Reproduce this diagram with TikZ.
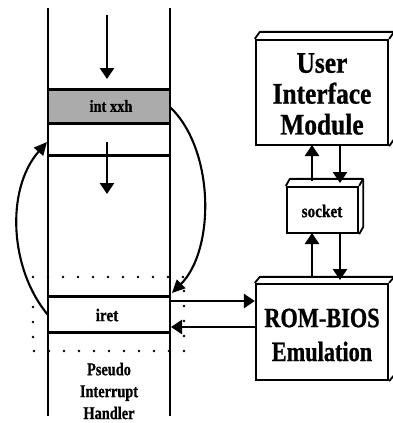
\documentclass[tikz,border=0pt]{standalone}
\usepackage{fontspec}
\setmainfont{Liberation Serif}
\newfontfamily\figfont[FakeStretch=0.85,FakeBold=0.8]{Liberation Serif}
\newfontfamily\narrowfont[FakeStretch=0.8,FakeBold=0.8]{Liberation Serif}
\usetikzlibrary{arrows.meta,calc}
\begin{document}
\begin{tikzpicture}[x=1bp,y=-1bp,
  rail/.style={line width=1.9bp},
  band/.style={line width=3bp},
  flow/.style={line width=2.6bp,-{Triangle[length=11bp,width=14bp]}},
  loop/.style={line width=2.1bp,-{Triangle[length=13bp,width=12bp]}},
  boxface/.style={draw,line width=2.3bp,fill=white,inner sep=0pt},
  slab/.style={line width=1.8bp,line join=round},
  dotline/.style={line width=2.6bp,line cap=round,dash pattern=on 0bp off 15bp},
]
\useasboundingbox (0,0) rectangle (393,423);

% stack column
\coordinate (ctl) at (48,8);  \coordinate (cbl) at (48,416);
\coordinate (ctr) at (170,8); \coordinate (cbr) at (170,416);

% shaded instruction band
\node[fill=black!33,minimum width=122bp,minimum height=33bp,inner sep=0pt]
  (intband) at (109,106.5) {};
\node[font=\figfont\bfseries\fontsize{17}{17}\selectfont] (inttext) at (111,106) {int xxh};

% dotted outline of the handler region
\draw[dotline] (33,277) rectangle (184,351);

% iret band
\node[minimum width=122bp,minimum height=35bp,inner sep=0pt] (iretband) at (109,314.5) {};
\node[font=\figfont\bfseries\fontsize{18}{18}\selectfont] (irettext) at (107,315) {iret};

\draw[rail] (ctl) -- (cbl);
\draw[rail] (ctr) -- (cbr);
\draw[band] (intband.north west) -- (intband.north east);
\draw[band] (intband.south west) -- (intband.south east);
\coordinate (subl) at (48,155); \coordinate (subr) at (170,155);
\draw[band] (subl) -- (subr);
\draw[band] (iretband.north west) -- (iretband.north east);
\draw[band] (iretband.south west) -- (iretband.south east);

% flow arrows inside the column
\coordinate (a1s) at (107,15);  \coordinate (a1e) at (107,79);
\coordinate (a2s) at (107,142); \coordinate (a2e) at (107,194);
\draw[flow] (a1s) -- (a1e);
\draw[flow] (a2s) -- (a2e);

\node[font=\narrowfont\bfseries\fontsize{18}{22}\selectfont,align=center]
  (handler) at (109,391) {Pseudo\\Interrupt\\Handler};

% control transfer curves
\coordinate (retfrom) at (48,315); \coordinate (retto) at (47,142);
\draw[loop] (retfrom) .. controls (10,270) and (5,190) .. (retto);
\coordinate (callfrom) at (170,107); \coordinate (callto) at (172,293);
\draw[loop] (callfrom) .. controls (215,150) and (215,250) .. (callto);

% modules drawn as slabs
\node[boxface,minimum width=132bp,minimum height=105bp] (uim) at (322,92.5) {};
\node[boxface,minimum width=71bp,minimum height=46bp] (sock) at (322.5,210) {};
\node[boxface,minimum width=132bp,minimum height=96bp] (rom) at (322,332) {};

\foreach \b/\dx/\dy in {uim/5/-7,sock/4/-7,rom/5/-6}{
  \draw[slab] (\b.north west) -- ++(\dx,\dy) -- ($(\b.north east)+(\dx,\dy)$)
     -- ($(\b.south east)+(\dx,\dy)$) -- (\b.south east);
  \draw[slab] ($(\b.north east)+(\dx,\dy)$) -- (\b.north east);
}

\node[font=\figfont\bfseries\fontsize{30}{31}\selectfont,align=center] (uimtext) at (322,94)
  {User\\Interface\\Module};
\node[font=\figfont\bfseries\fontsize{18}{18}\selectfont] (socktext) at (322,211) {socket};
\node[font=\narrowfont\bfseries\fontsize{28}{34}\selectfont,align=center] (romtext) at (322,335)
  {ROM-BIOS\\Emulation};

% links between the modules
\coordinate (u1) at (312,145); \coordinate (s1) at (312,181);
\coordinate (u2) at (340,145); \coordinate (s2) at (340,183);
\draw[flow] (s1) -- (u1);
\draw[flow] (u2) -- (s2);
\coordinate (s3) at (312,233); \coordinate (r3) at (312,278);
\coordinate (s4) at (340,233); \coordinate (r4) at (340,280);
\draw[flow] (r3) -- (s3);
\draw[flow] (s4) -- (r4);

% links between the handler and the emulation
\coordinate (h1) at (170,301); \coordinate (h2) at (171,327);
\draw[flow] (h1) -- (h1 -| rom.west);
\draw[flow] (h2 -| rom.west) -- (h2);
\end{tikzpicture}
\end{document}
